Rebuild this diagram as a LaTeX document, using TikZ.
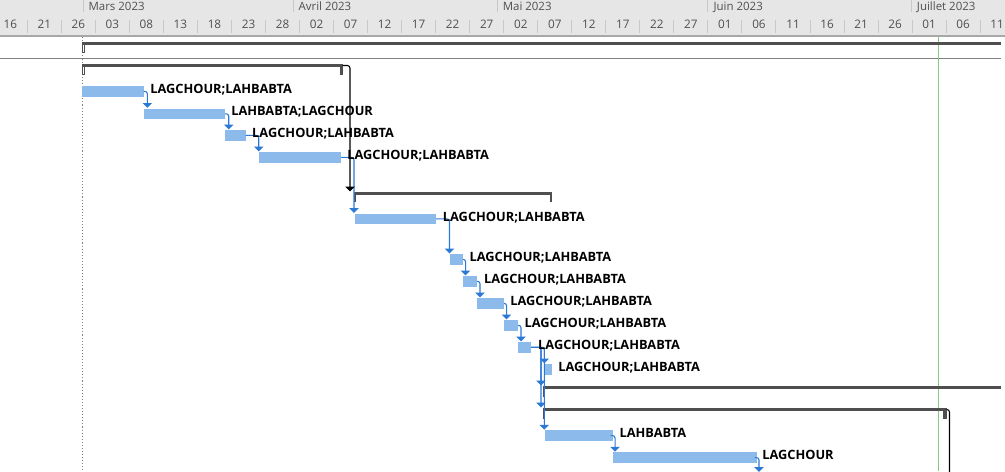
\documentclass[tikz,border=0pt]{standalone}
\usepackage{fontspec}
\setmainfont{Open Sans}
\usetikzlibrary{arrows.meta,calc}
\definecolor{hdrbg}{HTML}{E6E6E6}
\definecolor{hdrline}{HTML}{A8A8A8}
\definecolor{sepgrey}{HTML}{C8C8C8}
\definecolor{hdrtext}{HTML}{505050}
\definecolor{barblue}{HTML}{8CBAEB}
\definecolor{linkblue}{HTML}{2B79D5}
\definecolor{sumgrey}{HTML}{4F4F4F}
\definecolor{rowline}{HTML}{808080}
\definecolor{todaygreen}{HTML}{86C886}
\newcommand\gbar[4]{\node[gbar, minimum width={(#3-#2)*0.75pt}] (#1) at (#2,#4) {};}
\newcommand\gsum[4]{\node[gsum, minimum width={(#3-#2)*0.75pt}] (#1) at (#2,#4) {};}
\begin{document}
\begin{tikzpicture}[x=0.75pt,y=-0.75pt,
  gbar/.style={fill=barblue,anchor=north west,inner sep=0pt,outer sep=0pt,minimum height=8pt},
  gsum/.style={fill=sumgrey,anchor=north west,inner sep=0pt,outer sep=0pt,minimum height=2.2pt},
  glabel/.style={anchor=base west,inner sep=0pt,font=\bfseries\fontsize{9.6}{11}\selectfont},
  daylab/.style={anchor=base,inner sep=0pt,text=hdrtext,font=\fontsize{8.8}{10}\selectfont},
  monlab/.style={anchor=base west,inner sep=0pt,text=hdrtext,font=\fontsize{8.6}{10}\selectfont},
  sepline/.style={draw=sepgrey,line width=0.75pt},
  link/.style={draw=linkblue,line width=0.8pt,rounded corners=1.8pt,-{Triangle[width=7pt,length=3.6pt]},shorten >=0.5pt},
  slink/.style={draw=black,line width=0.8pt,rounded corners=2pt,-{Triangle[width=7pt,length=3.6pt]},shorten >=0.5pt}]
\useasboundingbox (0,0) rectangle (1005,471);
\clip (0,0) rectangle (1005,471);
\fill[white] (0,0) rectangle (1005,471);
% header
\fill[hdrbg] (0,0) rectangle (1005,36);
\draw[hdrline,line width=0.9pt] (0,36) -- (1005,36);
\foreach \x in {83,293,497.5,707.7,911.7} \draw[sepline] (\x,0) -- (\x,12);
\node[monlab] (m1) at (88.3,10) {Mars 2023};
\node[monlab] (m2) at (298.3,10) {Avril 2023};
\node[monlab] (m3) at (502.5,10) {Mai 2023};
\node[monlab] (m4) at (713.3,10) {Juin 2023};
\node[monlab] (m5) at (916.7,10) {Juillet 2023};
\foreach \k in {0,...,28} \draw[sepline] ({27.3+34.03*\k},20) -- ++(0,13);
\foreach \lab [count=\k from 0] in {16,21,26,03,08,13,18,23,28,02,07,12,17,22,27,02,07,12,17,22,27,01,06,11,16,21,26,01,06,11}
  \node[daylab] (d\k) at ({10.3+34.03*\k},28.3) {\lab};
% grid lines
\draw[rowline,line width=0.9pt] (0,58.5) -- (1001,58.5);
\draw[rowline,line width=0.8pt,dash pattern=on 0.8pt off 1.5pt] (82.3,37) -- (82.3,471);
\draw[todaygreen,line width=0.8pt] (938.3,37) -- (938.3,471);
% summaries
\gsum{s1}{82}{1001}{42}
\draw[sumgrey,line width=0.55pt] (s1.north west) rectangle ++(2.2,10.5);
\gsum{s2}{82}{342.7}{64}
\draw[sumgrey,line width=0.55pt] (s2.north west) rectangle ++(2.2,10.8);
\fill[sumgrey] (s2.north east) rectangle ++(-3.2,10.8);
\gsum{s3}{354}{552}{192}
\fill[sumgrey] (s3.north west) rectangle ++(2.2,10);
\fill[sumgrey] (s3.north east) rectangle ++(-2.2,10);
\gsum{sA}{543}{1001}{386}
\fill[sumgrey] (sA.north west) rectangle ++(2.2,10.5);
\gsum{sB}{543}{946.7}{408}
\fill[sumgrey] (sB.north west) rectangle ++(2.2,10.5);
\fill[sumgrey] (sB.north east) rectangle ++(-3.7,11);
% bars
\gbar{b1}{82}{143.5}{86}
\gbar{b2}{144}{225}{108.5}
\gbar{b3}{225}{245.7}{130}
\gbar{b4}{259}{341}{152}
\gbar{b5}{355}{436}{213.5}
\gbar{b6}{450}{463}{254}
\gbar{b7}{463}{477}{276}
\gbar{b8}{477}{504}{298}
\gbar{b9}{504}{518}{320}
\gbar{b10}{518}{531}{342}
\gbar{b11}{545}{552}{364}
\gbar{b14}{545}{613.3}{430.3}
\gbar{b15}{613.3}{756.7}{452.3}
% links
\draw[link] (b1.east) -| ([xshift=2.5pt]b2.north west);
\draw[link] (b2.east) -| ([xshift=2.8pt]b3.north west);
\draw[link] (b3.east) -| ([xshift=-0.2pt]b4.north west);
\draw[link] (b4.east) -| ([xshift=-0.75pt]b5.north west);
\draw[link] (b5.east) -| ([xshift=-0.4pt]b6.north west);
\draw[link] (b6.east) -| ([xshift=1.9pt]b7.north west);
\draw[link] (b7.east) -| ([xshift=2.25pt]b8.north west);
\draw[link] (b8.east) -| ([xshift=1.9pt]b9.north west);
\draw[link] (b9.east) -| ([xshift=2.25pt]b10.north west);
\draw[link] (b10.east) -| ([xshift=-0.5pt]b11.north west);
\draw[link] (b10.east) -| ([xshift=-1.5pt]sA.north west);
\draw[link] (b10.east) -| ([xshift=-1.5pt]sB.north west);
\draw[link] (b10.east) -| ([xshift=-0.5pt]b14.north west);
\draw[link] (b14.east) -| ([xshift=1.3pt]b15.north west);
\coordinate (out15) at (759,472.5);
\draw[link] (b15.east) -| (out15);
\draw[slink] (s2.east) -| ([xshift=-3pt]s3.north west);
\coordinate (outB) at (949.5,480);
\draw[black,line width=0.8pt,rounded corners=2pt] (sB.east) -| (outB);
% labels
\node[glabel] (t1) at ([xshift=4.9pt,yshift=-5.6pt]b1.north east) {LAGCHOUR;LAHBABTA};
\node[glabel] (t2) at ([xshift=4.5pt,yshift=-5.6pt]b2.north east) {LAHBABTA;LAGCHOUR};
\node[glabel] (t3) at ([xshift=4.7pt,yshift=-5.6pt]b3.north east) {LAGCHOUR;LAHBABTA};
\node[glabel] (t4) at ([xshift=4.5pt,yshift=-5.6pt]b4.north east) {LAGCHOUR;LAHBABTA};
\node[glabel] (t5) at ([xshift=5pt,yshift=-5.7pt]b5.north east) {LAGCHOUR;LAHBABTA};
\node[glabel] (t6) at ([xshift=4.7pt,yshift=-5.7pt]b6.north east) {LAGCHOUR;LAHBABTA};
\node[glabel] (t7) at ([xshift=5.2pt,yshift=-5.7pt]b7.north east) {LAGCHOUR;LAHBABTA};
\node[glabel] (t8) at ([xshift=4.5pt,yshift=-5.7pt]b8.north east) {LAGCHOUR;LAHBABTA};
\node[glabel] (t9) at ([xshift=4.7pt,yshift=-5.7pt]b9.north east) {LAGCHOUR;LAHBABTA};
\node[glabel] (t10) at ([xshift=5.2pt,yshift=-5.7pt]b10.north east) {LAGCHOUR;LAHBABTA};
\node[glabel] (t11) at ([xshift=4.5pt,yshift=-5.7pt]b11.north east) {LAGCHOUR;LAHBABTA};
\node[glabel] (t14) at ([xshift=4.5pt,yshift=-5.7pt]b14.north east) {LAHBABTA};
\node[glabel] (t15) at ([xshift=4pt,yshift=-5.7pt]b15.north east) {LAGCHOUR};
\end{tikzpicture}
\end{document}
